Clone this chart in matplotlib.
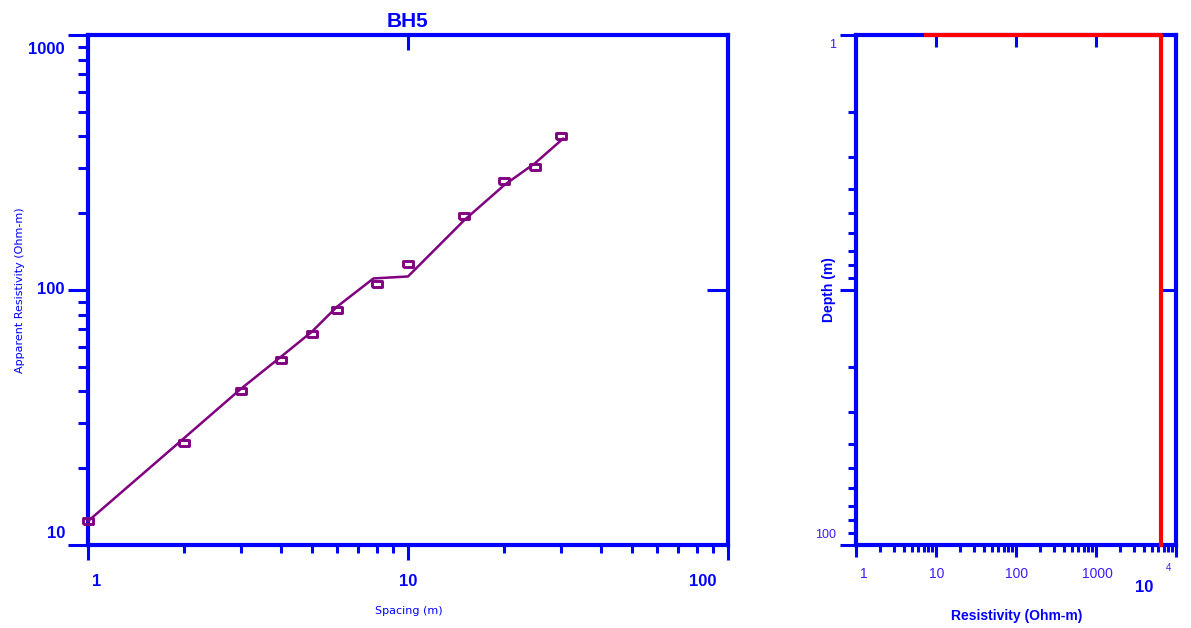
import matplotlib.pyplot as plt
import numpy as np
from matplotlib.ticker import FixedLocator, LogLocator, NullFormatter

plt.rcParams['font.family'] = ['Liberation Sans', 'DejaVu Sans']

# measured apparent resistivity (BH5)
spacing = [1, 2, 3, 4, 5, 6, 8, 10, 15, 20, 25, 30]
app_res = [12.4, 25.1, 40.3, 53.2, 67.2, 83.5, 105.6, 126.5, 195, 267, 304, 403]

# fitted curve
fit_spacing = [1, 2, 3, 4, 5, 6, 7.8, 10, 15, 20, 25, 30.5]
fit_res = [12.4, 26.3, 40.9, 54.6, 68.5, 86, 111, 113, 188, 258, 315, 392]

# layer model (resistivity vs depth)
model_res = [7.5, 6500, 6500]
model_depth = [1, 1, 100]

BLUE = '#0000ff'
PURPLE = '#800080'
LABEL_BLUE = '#3a1cff'
PX = 0.72  # points per pixel at dpi 100

fig = plt.figure(figsize=(11.91, 6.28), dpi=100)
ax1 = fig.add_axes([88 / 1191, 1 - 545 / 628, 640 / 1191, 510 / 628])
ax2 = fig.add_axes([856 / 1191, 1 - 545 / 628, 320 / 1191, 510 / 628])


def frame(ax, xmaj, ymaj, xlen, ylen):
    for sp in ax.spines.values():
        sp.set_color(BLUE)
        sp.set_linewidth(3)
    ax.xaxis.set_major_locator(FixedLocator(xmaj))
    ax.yaxis.set_major_locator(FixedLocator(ymaj))
    ax.xaxis.set_minor_locator(LogLocator(base=10, subs=np.arange(2, 10)))
    ax.yaxis.set_minor_locator(LogLocator(base=10, subs=np.arange(2, 10)))
    ax.xaxis.set_minor_formatter(NullFormatter())
    ax.yaxis.set_minor_formatter(NullFormatter())
    ax.tick_params(which='both', colors=BLUE, width=2.2, top=False, right=False,
                   labelbottom=False, labelleft=False)
    ax.tick_params(axis='x', which='major', length=xlen[0] * PX)
    ax.tick_params(axis='x', which='minor', length=xlen[1] * PX)
    ax.tick_params(axis='y', which='major', length=ylen[0] * PX)
    ax.tick_params(axis='y', which='minor', length=ylen[1] * PX)


def inner_ticks(ax, side, ticks, length):
    if side == 'top':
        sec = ax.secondary_xaxis('top')
        sec.set_xticks(ticks, labels=[''] * len(ticks))
    else:
        sec = ax.secondary_yaxis('right')
        sec.set_yticks(ticks, labels=[''] * len(ticks))
    sec.tick_params(which='major', direction='in', length=length * PX, width=2.2, colors=BLUE)
    sec.tick_params(which='minor', length=0)
    sec.spines[side].set_visible(False)


def xlab(ax, val, text, dx, dy, **kw):
    ax.annotate(text, xy=(val, 0), xycoords=ax.get_xaxis_transform(), xytext=(dx, dy),
                textcoords='offset pixels', ha='center', va='center', annotation_clip=False, **kw)


def ylab(ax, val, text, dx, dy, **kw):
    ax.annotate(text, xy=(0, val), xycoords=ax.get_yaxis_transform(), xytext=(dx, dy),
                textcoords='offset pixels', ha='right', va='center', annotation_clip=False, **kw)


# ---- left: sounding curve
ax1.set_xscale('log')
ax1.set_yscale('log')
ax1.set_xlim(1, 100)
ax1.set_ylim(10, 1000)
rect = [(-1.3, -0.85), (1.3, -0.85), (1.3, 0.85), (-1.3, 0.85), (-1.3, -0.85)]
ax1.plot(fit_spacing, fit_res, color=PURPLE, lw=1.8, clip_on=False, zorder=3)
ax1.plot(spacing, app_res, ls='none', marker=rect, ms=6.5, mfc='none', mec=PURPLE,
         mew=2.1, clip_on=False, zorder=4)
frame(ax1, [1, 10, 100], [10, 100, 1000], (15, 8), (20, 10))
inner_ticks(ax1, 'top', [10], 15)
inner_ticks(ax1, 'right', [100], 21)

big = dict(color=BLUE, fontsize=12, fontweight='bold')
xlab(ax1, 1, '1', 9, -37, **big)
xlab(ax1, 10, '10', 0, -37, **big)
xlab(ax1, 100, '100', -25, -37, **big)
ylab(ax1, 1000, '1000', -23, -14, **big)
ylab(ax1, 100, '100', -23, 0, **big)
ylab(ax1, 10, '10', -23, 12, **big)

ax1.set_title('BH5', color=BLUE, fontsize=15, fontweight='bold', pad=6)
ax1.set_xlabel('Spacing (m)', color=BLUE, fontsize=8, family='DejaVu Sans', va='center')
ax1.xaxis.set_label_coords(0.5016, -0.1294)
ax1.set_ylabel('Apparent Resistivity (Ohm-m)', color=BLUE, fontsize=8,
               family='DejaVu Sans', va='center', ha='center')
ax1.yaxis.set_label_coords(-0.106, 0.5)

# ---- right: layer model
ax2.set_xscale('log')
ax2.set_yscale('log')
ax2.set_xlim(1, 10000)
ax2.set_ylim(100, 1)
ax2.plot(model_res, model_depth, color='#ff0000', lw=3, clip_on=False, zorder=3)
frame(ax2, [1, 10, 100, 1000, 10000], [1, 10, 100], (12, 7), (16, 8))
inner_ticks(ax2, 'top', [10, 100, 1000], 12)
inner_ticks(ax2, 'right', [10], 16)

small = dict(color=LABEL_BLUE, fontsize=10)
xlab(ax2, 1, '1', 8, -29, **small)
xlab(ax2, 10, '10', 1, -29, **small)
xlab(ax2, 100, '100', 1, -29, **small)
xlab(ax2, 1000, '1000', 1, -29, **small)
xlab(ax2, 10000, '10', -32, -42, color=BLUE, fontsize=12, fontweight='bold')
xlab(ax2, 10000, '4', -7, -23, color=LABEL_BLUE, fontsize=7)
ylab(ax2, 1, '1', -20, -10, color=LABEL_BLUE, fontsize=9)
ylab(ax2, 100, '100', -20, 10, color=LABEL_BLUE, fontsize=9)

ax2.set_xlabel('Resistivity (Ohm-m)', color=BLUE, fontsize=10, fontweight='bold', va='center')
ax2.xaxis.set_label_coords(0.503, -0.139)
ax2.set_ylabel('Depth (m)', color=BLUE, fontsize=10, fontweight='bold', va='center', ha='center')
ax2.yaxis.set_label_coords(-0.084, 0.5)

plt.savefig('out.png', dpi=100)
